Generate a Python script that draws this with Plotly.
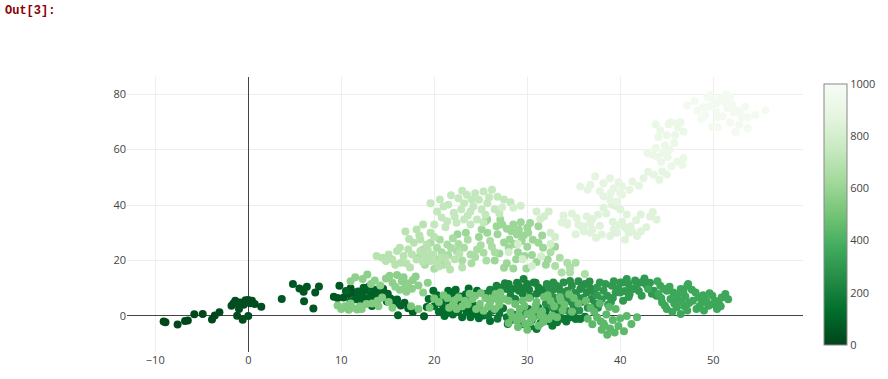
import plotly.graph_objects as go

# ---- data: random-walk points, grouped by colour level ----
walk_a1 = [(-9.1,-2.0),(-8.9,-2.3),(-7.6,-3.1),(-6.8,-1.8),(-6.5,-1.6),(-5.8,0.6),(-4.9,0.7),
           (-3.9,-1.3),(-3.6,0.2),(-3.1,1.3)]
walk_a2 = [(-1.8,3.7),(-1.6,4.5),(-1.4,5.5),(-1.2,0.1),(-1.0,2.5),(-0.6,-1.4),(-0.9,4.9),(-0.3,5.7),
           (0.0,5.8),(0.4,5.5),(0.7,4.3),(0.0,0.0),(1.4,3.3),(-0.5,4.0),(0.2,4.6)]
walk_b = [(3.6,6.1),(4.8,11.5),(5.5,9.9),(6.3,10.5),(5.95,8.7),(6.0,5.3),(7.0,2.7),(7.2,8.5),(7.6,10.6),
          (9.2,6.9),(9.8,10.9),(10.25,6.7),(10.8,7.9),(11.0,10.0),(11.3,8.5),(11.7,7.3),(9.6,6.5)]
walk_c = [(12.2,7.5),(12.5,9.2),(12.8,6.4),(13.0,10.6),(13.2,8.0),(13.5,7.0),(13.7,9.5),(13.9,5.8),
          (14.1,8.3),(14.3,6.9),(12.0,5.6),(11.5,6.0),(12.6,4.8),(13.3,3.6),(14.6,7.6),(14.9,5.2),
          (15.3,6.3),(15.6,4.3),(16.0,5.9),(16.4,3.8),(16.8,4.8),(17.2,2.8),(16.1,0.3),(17.7,1.4),
          (18.9,-0.1),(19.2,3.2),(13.6,4.4),(12.3,8.7),(10.5,9.0),(11.0,5.3),
          (11.8,8.8),(12.9,5.5),(13.4,9.0),(14.5,9.8),(12.4,10.2),(15.0,8.0)]
walk_d1 = [(19.4,6.1),(19.9,9.1),(20.3,7.5),(20.8,4.3),(21.0,2.5),(21.5,9.1),(22.0,8.5),(21.3,1.0),
           (21.8,3.2),(22.4,2.5),(23.0,-0.5),(23.5,1.3),(23.9,-0.5),(24.4,0.7),(24.9,2.5),(23.7,9.9),
           (24.6,9.1),(22.6,1.8),(23.2,3.0),(24.0,2.0),(25.3,0.2),(22.0,0.5),(20.5,1.5),(21.9,5.8),
           (22.8,7.0),(23.6,5.0),(20.0,3.5),(20.8,6.3),(21.6,4.7),(22.9,4.5),(24.2,3.8),(25.0,1.2),
           (23.4,7.8),(22.3,9.5),(21.1,0.0),(24.8,-0.8),(26.0,-1.8),(23.8,6.8)]
walk_d2 = [(25.8,0.1),(26.2,1.9),(27.8,-0.5),(27.9,-2.9),(29.7,0.7),(30.1,2.5),(31.0,-4.7),(31.9,1.3),
           (32.1,-1.1),(32.7,-3.5),(33.2,-2.3),(33.9,-1.1),(34.6,-0.5),(35.2,-1.1),(35.7,-1.1),
           (30.5,-1.5),(31.4,-2.6),(32.4,-2.0),(26.8,-1.0),(28.5,0.5),(29.0,-0.5),(30.8,0.0),
           (33.5,0.3),(31.2,3.0),(32.0,2.0),(27.0,0.8),(28.3,-1.5),(29.4,-3.0),(30.3,-3.8),
           (31.6,-1.8),(32.9,-1.0),(34.2,-2.0),(35.0,0.0),(36.2,-0.3),(33.0,1.5),(27.4,2.8),(29.9,1.7)]
walk_e = [(26.7,10.3),(27.1,8.5),(27.8,9.7),(28.2,7.3),(28.7,6.1),(29.1,9.1),(29.6,13.3),(30.0,11.5),
          (30.9,12.0),(31.2,10.3),(26.7,10.9),(27.3,10.3),(28.4,9.7),(29.1,10.9),(30.7,12.1),
          (31.6,8.5),(25.5,8.0),(26.0,9.5),(29.5,8.0),(30.3,7.0),(28.0,11.5),(28.9,12.0),(30.2,9.5),
          (31.0,8.0),(27.6,11.8),(26.3,8.6),(29.8,10.2),(32.0,10.0)]
walk_f1 = [(32.1,11.5),(32.8,12.1),(33.4,10.3),(33.9,12.1),(34.3,9.1),(34.8,10.9),(35.3,7.3),(35.7,9.7),
           (36.2,11.5),(36.4,8.5),(36.9,6.1),(32.5,8.0),(33.0,6.5),(33.8,7.5),(34.5,5.5),(35.0,3.5),
           (35.8,5.0),(36.5,3.0),(37.3,4.5),(32.0,4.5),(33.5,3.0),(34.2,2.0),(32.8,9.5),(35.5,12.5),
           (34.0,8.5),(36.8,10.0),(32.3,10.3),(33.1,11.0),(33.6,8.8),(34.6,12.6),(35.1,8.3),
           (35.9,10.5),(36.7,12.4),(37.1,8.8),(36.0,6.5),(34.9,4.5),(33.4,5.0),(32.7,3.0),(34.2,6.5),
           (35.6,2.0),(37.6,3.0)]
walk_f2 = [(37.5,10.3),(37.8,12.1),(38.2,9.1),(38.6,7.3),(39.1,10.9),(39.5,8.5),(40.0,12.1),(40.7,13.3),
           (40.9,11.5),(41.4,9.7),(42.2,12.1),(43.0,10.3),(43.6,9.1),(43.9,7.3),(40.3,12.1),(40.0,8.5),
           (41.1,9.7),(40.9,6.8),(41.8,11.5),(42.3,7.3),(38.0,6.0),(39.0,5.0),(37.5,7.5),(42.6,13.5),
           (43.2,12.0),(38.4,11.5),(39.3,12.5),(39.8,10.0),(40.5,9.0),(41.6,12.8),(42.8,11.3),
           (41.0,7.8),(39.2,6.5),(38.7,4.0),(40.3,5.5),(42.0,9.0),(43.4,8.0)]
walk_g = [(43.0,9.7),(44.3,10.9),(44.1,7.9),(44.5,4.9),(44.8,3.7),(45.0,9.1),(45.4,6.1),(45.7,8.5),
          (45.0,2.5),(46.1,6.1),(46.5,9.7),(46.8,9.1),(47.2,10.9),(47.3,11.5),(46.5,0.7),(46.1,3.1),
          (46.9,3.5),(47.4,4.7),(48.1,8.5),(48.4,6.7),(48.8,4.9),(49.1,6.1),(49.5,3.7),(49.9,7.3),
          (50.2,5.5),(50.4,2.5),(50.9,6.7),(51.3,7.9),(47.8,5.5),(48.5,3.5),(49.3,5.0),(50.0,4.2),
          (47.0,7.0),(45.8,4.5),(44.0,12.5),(44.7,9.8),(45.3,10.5),(46.3,8.0),(47.7,9.5),(48.9,7.5),
          (49.6,8.2),(50.6,4.5),(51.6,6.0),(48.2,2.5),(47.2,2.0),(45.6,1.5),(49.0,2.0),(50.8,3.5),
          (46.6,5.3),(44.4,6.5)]
walk_h = [(37.5,-0.5),(37.9,-2.0),(38.3,-3.5),(38.6,-6.8),(38.9,-4.5),(39.2,-1.5),(38.0,-5.0),(37.2,1.5),
          (38.5,0.5),(39.5,2.5),(40.7,0.0),(41.2,-2.9),(40.0,-0.8),(36.8,3.0),(37.8,4.5),(38.8,3.2),
          (37.0,-3.0),(39.8,-3.6),(40.4,-5.5),(39.4,-6.0),(38.2,-2.7),(41.8,-0.5),(36.5,-1.0)]
walk_i1 = [(29.4,-1.1),(29.8,-2.9),(30.3,-2.3),(30.0,0.7),(30.5,1.3),(30.9,3.7),(31.4,0.1),(31.8,-0.5),
           (32.3,-1.1),(32.7,0.1),(33.2,-0.5),(28.9,-1.7),(28.2,1.3),(29.2,2.5),(28.7,4.3),(29.5,5.5),
           (30.2,6.5),(31.0,5.0),(31.8,6.8),(32.5,5.5),(33.5,6.8),(34.0,4.0),(35.0,6.5),(29.0,-4.0),
           (30.0,-5.0),(31.2,-3.5),(28.0,-2.5),(29.7,3.5),(30.8,2.2),(31.6,1.7),(32.9,3.5),(33.8,2.0),
           (34.8,1.5),(35.5,4.5),(36.3,5.5),(28.4,-0.5),(30.6,-0.8),(29.1,0.3),(31.7,-2.2),(33.6,5.6),
           (34.5,7.8),(32.2,7.5)]
walk_i2 = [(22.1,5.5),(22.6,6.7),(23.3,5.5),(24.1,6.1),(24.9,4.3),(25.3,1.9),(26.0,4.9),(26.6,7.9),
           (27.1,8.5),(27.5,6.1),(28.0,5.5),(21.4,6.5),(22.0,4.0),(23.0,3.5),(24.5,2.5),(25.5,6.5),
           (26.5,2.5),(27.0,4.0),(20.5,5.0),(21.0,7.5),(19.5,3.0),(18.3,2.5),(17.5,3.5),(22.4,2.5),
           (23.6,4.2),(24.4,7.3),(25.8,3.3),(26.8,5.9),(25.0,8.3),(23.8,8.0),(21.6,3.0),(20.0,6.3),
           (26.2,6.3)]
walk_j1 = [(9.6,3.8),(10.0,2.5),(10.4,3.5),(10.8,2.2),(11.2,3.0),(11.7,2.3),(12.2,2.5),(12.7,4.3),
           (13.3,4.5),(13.9,5.5),(14.4,6.7),(15.1,5.0),(14.0,3.5),(11.0,4.5),(12.0,3.5),(15.5,3.0)]
walk_j2 = [(11.0,12.5),(11.5,14.0),(12.3,13.3),(13.6,12.8),(14.2,11.0),(14.8,13.5),(15.5,12.0),
           (16.0,14.8),(16.5,12.5),(16.9,10.4),(17.2,11.8),(17.7,13.0),(17.0,8.7),(16.3,9.5),
           (18.3,11.0),(18.8,8.5),(19.3,12.0),(12.8,15.0),(13.2,11.5),(15.2,14.5),(16.7,14.0),
           (18.0,14.2),(17.6,9.8),(15.8,10.5)]
walk_k1 = [(19.6,26.4),(20.3,24.6),(21.4,25.8),(22.4,23.4),(23.2,24.6),(23.9,22.2),(24.6,24.0),
           (25.3,22.8),(18.2,21.0),(18.8,24.0),(19.8,22.0),
           (20.6,27.5),(21.5,22.0),(22.0,28.0),(23.0,20.0),(24.0,19.0),(25.0,25.5),(26.0,27.0),
           (26.5,23.0),(21.0,18.5),(20.0,17.0),(19.0,18.5),(20.5,20.5),(21.8,24.5),(22.6,26.0),
           (23.6,27.5),(24.4,21.3),(25.6,20.0),(26.2,25.0),(20.8,23.0)]
walk_k2 = [(25.5,34.2),(27.1,34.8),(27.3,33.0),(26.7,32.4),(28.5,33.0),(28.3,30.6),(28.9,29.4),
           (29.1,31.2),(30.0,31.8),(30.1,30.0),(31.2,32.4),(28.1,27.6),(29.4,27.0),(31.2,26.4),
           (31.7,24.6),(32.2,20.4),(27.5,17.4),(28.5,17.1),(29.9,17.1),(29.7,21.6),(27.0,22.5),
           (28.0,24.5),(29.0,23.0),(30.5,22.0),(31.0,19.5),(30.0,25.0),(26.5,20.0),(27.5,26.5),
           (28.6,26.0),(29.6,29.0),(30.6,27.5),(31.6,29.0),(30.3,33.5),(29.3,33.8),(27.8,31.5),
           (26.8,29.5),(32.0,18.5),(33.0,25.0),(28.8,20.5),(27.8,19.0),(25.7,30.0),(25.1,31.2),
           (25.7,34.8),(24.8,28.5),(23.4,30.0),(22.5,29.5)]
walk_k3 = [(34.3,19.2),(34.6,17.4),(35.2,19.2),(33.7,15.7),(34.6,15.7),(36.2,15.1),(33.0,18.0),
           (33.5,21.0),(32.5,23.0)]
walk_l = [(13.8,21.6),(14.4,21.0),(15.1,22.2),(15.5,20.4),(16.0,23.4),(16.3,24.6),(16.7,21.6),
          (17.2,24.0),(17.6,22.2),(18.1,20.4),(18.5,23.4),(19.0,21.6),(19.6,19.8),(19.9,22.2),
          (20.3,19.2),(20.8,21.0),(21.4,18.6),(21.7,16.8),(17.8,26.4),(18.5,27.6),(19.2,25.8),
          (19.6,30.0),(18.1,31.2),(18.8,33.0),(22.2,20.5),(23.0,17.5),(22.7,22.5),(17.0,19.0),
          (15.8,18.5),(14.8,19.8),(16.4,19.2),(17.4,17.5),(18.8,19.4),(20.5,17.8),(21.2,20.8),
          (19.3,23.8),(17.3,27.8),(16.9,30.5),(18.4,29.0),(20.0,28.5)]
walk_m = [(19.6,40.7),(20.3,37.7),(21.0,39.5),(21.5,40.1),(22.1,37.2),(22.6,42.5),(23.2,40.7),
          (23.5,43.7),(23.9,37.7),(24.4,44.3),(24.8,41.9),(25.3,44.9),(25.7,40.7),(25.1,38.4),
          (21.4,34.2),(22.4,33.6),(23.2,34.8),(23.9,33.0),(24.6,34.8),(25.3,33.6),(26.2,45.5),
          (26.8,43.0),(27.5,42.0),(28.2,41.0),(20.8,35.5),(22.9,38.5),(24.2,39.5),(20.6,42.0),
          (21.8,43.5),(23.0,45.2),(24.0,42.0),(25.9,42.8),(26.5,38.5),(22.2,35.8),(20.0,33.0),
          (21.2,32.0),(23.6,36.2),(25.5,36.5),(27.0,37.0)]
walk_n = [(27.3,39.2),(28.5,39.0),(29.3,39.8),(31.4,35.0),(31.0,37.7),(31.8,35.9),(32.3,37.7),
          (32.5,30.0),(28.0,23.0),(29.5,20.5),(30.5,18.0),(31.5,21.5),(32.5,26.0),(33.0,28.5),
          (29.0,26.0)]
walk_o1 = [(33.9,36.2),(34.3,33.6),(35.3,35.4),(36.1,32.4),(36.4,35.9),(37.0,35.0),(36.1,30.6),
           (36.8,30.0),(38.0,29.4),(38.9,28.8),(39.3,31.2),(39.6,30.0),(38.2,39.0),(39.1,40.1),
           (39.6,39.5),(40.0,38.4),(40.7,36.6),(41.1,32.4),(40.9,30.0),(41.8,28.8),(42.2,30.6),
           (42.2,36.6),(43.2,35.9),(43.9,34.8),(33.7,33.7),(34.3,33.0),(35.9,31.9),(37.0,31.2),
           (40.2,34.0),(40.5,31.9),(41.3,30.5),(38.5,37.0),(39.2,34.0),(34.8,37.0),(35.5,33.0),
           (36.8,33.5),(37.6,36.5),(37.8,32.5),(39.9,32.8),(41.7,34.5),(42.8,32.0),(43.5,37.5),
           (40.5,27.5),(37.4,28.2),(35.2,29.5)]
walk_o2 = [(35.7,46.7),(36.8,47.3),(37.3,50.3),(38.2,47.9),(38.9,49.7),(39.3,46.1),(40.0,44.3),
           (40.2,46.7),(41.3,48.5),(42.5,49.7),(43.6,50.9),(44.2,49.1),(44.5,52.1),(38.2,43.1),
           (38.9,41.9),(39.6,41.3),(40.2,43.7),(36.5,45.5),(37.8,45.0),(39.8,48.2),(41.0,45.5),
           (42.0,47.0),(43.0,52.0),(45.0,51.0),(39.0,44.5)]
walk_p = [(42.9,58.8),(43.5,58.1),(44.0,57.3),(44.6,58.8),(45.1,57.3),(46.1,55.6),(46.7,54.5),
          (43.8,60.6),(44.1,64.5),(45.0,65.2),(45.9,65.2),(45.8,62.4),(43.8,69.2),(45.4,69.9),
          (45.2,69.2),(46.1,69.5),(46.5,69.9),(46.2,68.1),(44.8,61.5),(44.4,55.5),(45.5,54.0),
          (46.8,57.0),(44.3,67.0),(46.8,66.5),(45.3,60.0)]
walk_q = [(47.2,76.0),(48.3,74.0),(48.9,75.3),(49.1,72.4),(49.4,78.9),(49.7,79.6),(50.0,77.8),
          (50.4,76.7),(50.5,71.7),(50.8,78.5),(51.3,77.1),(51.5,75.0),(51.8,78.9),(52.2,73.5),
          (52.6,74.2),(52.9,73.1),(53.1,71.7),(53.7,71.7),(52.4,66.3),(53.7,67.7),(51.8,69.9),
          (49.9,68.1),(50.5,68.1),(55.6,74.2),(48.0,77.5),(49.5,75.5),(50.3,73.8),(51.0,72.0),
          (52.0,76.3),(53.4,75.5),(54.5,72.5),(52.8,69.0),(51.4,80.0),(48.7,71.0)]

# colour level (step number) read for each group from the colour bar
groups = [(walk_a1, 10), (walk_a2, 30), (walk_b, 55), (walk_c, 90), (walk_d1, 130), (walk_d2, 170),
          (walk_e, 215), (walk_f1, 270), (walk_f2, 310), (walk_g, 360), (walk_h, 440),
          (walk_i1, 480), (walk_i2, 510), (walk_j1, 540), (walk_j2, 570), (walk_k2, 615),
          (walk_k1, 655), (walk_k3, 665), (walk_l, 700), (walk_m, 740), (walk_n, 800),
          (walk_o1, 850), (walk_o2, 880), (walk_p, 920), (walk_q, 970)]

xs, ys, cs = [], [], []
for pts, level in groups:
    for px, py in pts:
        xs.append(px)
        ys.append(py)
        cs.append(level)

greens = [[0, "rgb(0,68,27)"], [0.125, "rgb(0,109,44)"], [0.25, "rgb(35,139,69)"],
          [0.375, "rgb(65,171,93)"], [0.5, "rgb(116,196,118)"], [0.625, "rgb(161,217,155)"],
          [0.75, "rgb(199,233,192)"], [0.875, "rgb(229,245,224)"], [1, "rgb(247,252,245)"]]

fig = go.Figure(go.Scatter(
    x=xs, y=ys, mode="markers", name="Random Walk",
    marker=dict(color=cs, size=8, colorscale=greens, cmin=0, cmax=1000, showscale=True,
                colorbar=dict(thickness=23, len=1, ypad=7, x=1.031, xpad=0,
                              outlinecolor="#888", outlinewidth=1,
                              tickvals=[0, 200, 400, 600, 800, 1000],
                              tickfont=dict(size=11, color="#444"))),
))

fig.update_layout(
    template="none",
    width=888, height=379,
    margin=dict(l=127, r=85, t=77, b=27),
    paper_bgcolor="white", plot_bgcolor="white",
    showlegend=False,
    font=dict(family='"Open Sans", verdana, arial, sans-serif', size=11, color="#444"),
    xaxis=dict(range=[-13.04, 59.65], dtick=10, gridcolor="#eee", zeroline=True,
               zerolinecolor="#444", zerolinewidth=1, showline=False, ticks=""),
    yaxis=dict(range=[-13.0, 86.2], dtick=20, gridcolor="#eee", zeroline=True,
               zerolinecolor="#444", zerolinewidth=1, showline=False, ticks=""),
    annotations=[dict(text="<b>Out[3]:</b>", xref="paper", yref="paper",
                      x=-0.1835, y=1.2727, xanchor="left", yanchor="top", showarrow=False,
                      font=dict(family="Liberation Mono, monospace", size=12, color="#8B0000"))],
)

fig.write_html("out.html", config={"displayModeBar": False},
               post_script="document.body.style.margin='0';")
